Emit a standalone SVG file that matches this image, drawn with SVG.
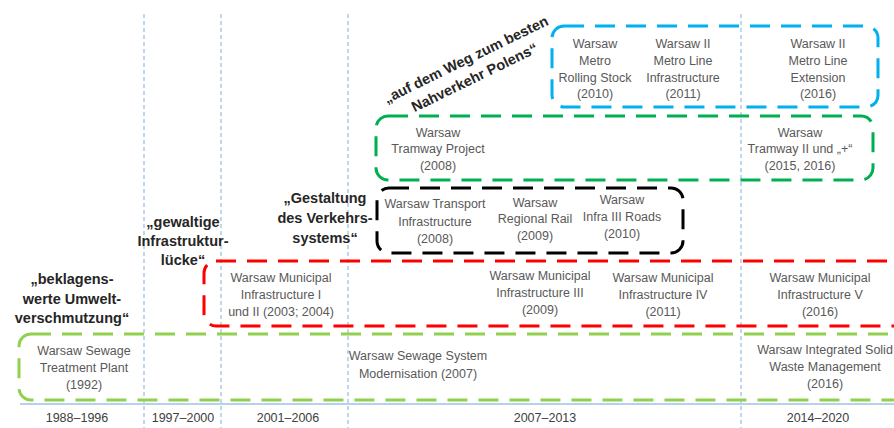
<svg xmlns="http://www.w3.org/2000/svg" width="894" height="428" viewBox="0 0 894 428">
<style>
.grid{stroke:#9dc3e6;stroke-width:1.3;stroke-dasharray:4 3;fill:none}
.axis{stroke:#9dc3e6;stroke-width:1.5}
.box{fill:none;stroke-width:3;stroke-dasharray:20 11}
.t{font-family:"Liberation Sans",Arial,sans-serif;font-size:12.5px;fill:#595959;text-anchor:middle}
.q{font-family:"Liberation Sans",Arial,sans-serif;font-size:14.5px;font-weight:bold;fill:#262626;text-anchor:middle}
.y{font-family:"Liberation Sans",Arial,sans-serif;font-size:12.5px;fill:#404040;text-anchor:middle}
</style>
<rect width="894" height="428" fill="#ffffff"/>
<g id="grid">
<line class="grid" x1="144" y1="14" x2="144" y2="428"/>
<line class="grid" x1="221" y1="14" x2="221" y2="428"/>
<line class="grid" x1="348" y1="14" x2="348" y2="428"/>
<line class="grid" x1="741" y1="14" x2="741" y2="428"/>
<line class="axis" x1="20" y1="404" x2="894" y2="404"/>
</g>
<g id="years">
<text class="y" x="77" y="422">1988–1996</text>
<text class="y" x="183" y="422">1997–2000</text>
<text class="y" x="288" y="422">2001–2006</text>
<text class="y" x="545" y="422">2007–2013</text>
<text class="y" x="818" y="422">2014–2020</text>
</g>
<g id="sewage">
<rect class="box" stroke="#92d050" x="19" y="334" width="900" height="66" rx="12"/>
<text class="t" x="84" y="355">Warsaw Sewage<tspan x="84" y="372">Treatment Plant</tspan><tspan x="84" y="389">(1992)</tspan></text>
<text class="t" x="418" y="360">Warsaw Sewage System<tspan x="418" y="378">Modernisation (2007)</tspan></text>
<text class="t" x="825" y="354">Warsaw Integrated Solid<tspan x="825" y="371">Waste Management</tspan><tspan x="825" y="388">(2016)</tspan></text>
</g>
<g id="municipal">
<rect class="box" stroke="#ff0000" x="204" y="261" width="720" height="65" rx="12"/>
<text class="t" x="281" y="282">Warsaw Municipal<tspan x="281" y="299">Infrastructure I</tspan><tspan x="281" y="316">und II (2003; 2004)</tspan></text>
<text class="t" x="540" y="280">Warsaw Municipal<tspan x="540" y="297">Infrastructure III</tspan><tspan x="540" y="314">(2009)</tspan></text>
<text class="t" x="663" y="282">Warsaw Municipal<tspan x="663" y="299">Infrastructure IV</tspan><tspan x="663" y="316">(2011)</tspan></text>
<text class="t" x="820" y="282">Warsaw Municipal<tspan x="820" y="299">Infrastructure V</tspan><tspan x="820" y="316">(2016)</tspan></text>
</g>
<g id="transport">
<rect class="box" stroke="#000000" x="377" y="188" width="306" height="65" rx="12"/>
<text class="t" x="435" y="208">Warsaw Transport<tspan x="435" y="226">Infrastructure</tspan><tspan x="435" y="243">(2008)</tspan></text>
<text class="t" x="535" y="207">Warsaw<tspan x="535" y="223">Regional Rail</tspan><tspan x="535" y="240">(2009)</tspan></text>
<text class="t" x="622" y="204">Warsaw<tspan x="622" y="221">Infra III Roads</tspan><tspan x="622" y="238">(2010)</tspan></text>
</g>
<g id="tramway">
<rect class="box" stroke="#00b050" x="376" y="116" width="497" height="64" rx="12"/>
<text class="t" x="438" y="137">Warsaw<tspan x="438" y="153">Tramway Project</tspan><tspan x="438" y="170">(2008)</tspan></text>
<text class="t" x="800" y="137">Warsaw<tspan x="800" y="153">Tramway II und „+“</tspan><tspan x="800" y="170">(2015, 2016)</tspan></text>
</g>
<g id="metro">
<rect class="box" stroke="#00b0f0" x="552" y="26" width="326" height="81" rx="12"/>
<text class="t" x="595" y="48">Warsaw<tspan x="595" y="65">Metro</tspan><tspan x="595" y="82">Rolling Stock</tspan><tspan x="595" y="98">(2010)</tspan></text>
<text class="t" x="683" y="48">Warsaw II<tspan x="683" y="65">Metro Line</tspan><tspan x="683" y="82">Infrastructure</tspan><tspan x="683" y="98">(2011)</tspan></text>
<text class="t" x="818" y="48">Warsaw II<tspan x="818" y="65">Metro Line</tspan><tspan x="818" y="82">Extension</tspan><tspan x="818" y="98">(2016)</tspan></text>
</g>
<g id="quotes">
<text class="q" x="72" y="284">„beklagens-<tspan x="72" y="304">werte Umwelt-</tspan><tspan x="72" y="323">verschmutzung“</tspan></text>
<text class="q" x="183" y="227">„gewaltige<tspan x="183" y="246">Infrastruktur-</tspan><tspan x="183" y="265">lücke“</tspan></text>
<text class="q" x="325" y="203">„Gestaltung<tspan x="325" y="223">des Verkehrs-</tspan><tspan x="325" y="243">systems“</tspan></text>
<g transform="translate(468,64) rotate(-26)">
<text class="q" x="0" y="0">„auf dem Weg zum besten<tspan x="0" y="20">Nahverkehr Polens“</tspan></text>
</g>
</g>
</svg>
